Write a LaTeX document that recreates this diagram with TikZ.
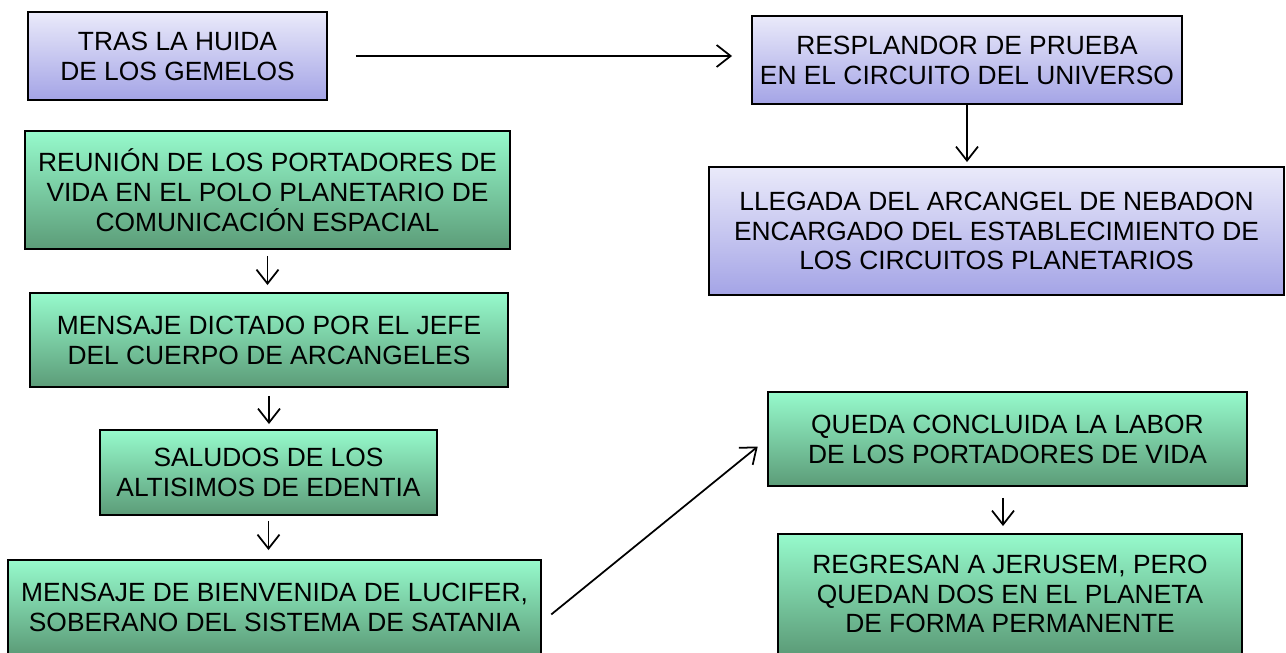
\documentclass[tikz,border=0pt]{standalone}
\usepackage{fontspec}
\setmainfont{Liberation Sans}
\usetikzlibrary{arrows.meta, positioning, calc}

\begin{document}
\begin{tikzpicture}[
    stage/.style={draw=black, line width=1.1pt, rectangle, align=center, font=\fontsize{15}{17}\selectfont, inner sep=2pt, minimum width=#1},
    lila/.style={top color=lilatop, bottom color=lilabot},
    verde/.style={top color=verdetop, bottom color=verdebot},
    flecha/.style={-{Straight Barb[length=0.28cm, width=0.44cm]}, line width=1pt},
]
\definecolor{lilatop}{RGB}{234,234,250}
\definecolor{lilabot}{RGB}{164,164,230}
\definecolor{verdetop}{RGB}{150,250,204}
\definecolor{verdebot}{RGB}{92,156,120}

\useasboundingbox (0, 0) rectangle (25.72, -13.06);

% --- Columna izquierda ---
\node[stage=5.98cm, lila, minimum height=1.76cm] (huida) at (3.55, -1.12) {TRAS LA HUIDA\\DE LOS GEMELOS};
\node[stage=9.7cm, verde, minimum height=2.36cm] (reunion) at (5.35, -3.8) {REUNIÓN DE LOS PORTADORES DE\\VIDA EN EL POLO PLANETARIO DE\\COMUNICACIÓN ESPACIAL};
\node[stage=9.56cm, verde, minimum height=1.88cm] (mensaje) at (5.38, -6.8) {MENSAJE DICTADO POR EL JEFE\\DEL CUERPO DE ARCANGELES};
\node[stage=6.74cm, verde, minimum height=1.7cm] (saludos) at (5.37, -9.45) {SALUDOS DE LOS\\ALTISIMOS DE EDENTIA};
\node[stage=10.66cm, verde, minimum height=1.88cm] (lucifer) at (5.49, -12.14) {MENSAJE DE BIENVENIDA DE LUCIFER,\\SOBERANO DEL SISTEMA DE SATANIA};

% --- Columna derecha ---
\node[stage=8.6cm, lila, minimum height=1.76cm] (prueba) at (19.34, -1.2) {RESPLANDOR DE PRUEBA\\EN EL CIRCUITO DEL UNIVERSO};
\node[stage=11.5cm, lila, minimum height=2.56cm] (arcangel) at (19.93, -4.62) {LLEGADA DEL ARCANGEL DE NEBADON\\ENCARGADO DEL ESTABLECIMIENTO DE\\LOS CIRCUITOS PLANETARIOS};
\node[stage=9.58cm, verde, minimum height=1.88cm] (labor) at (20.15, -8.78) {QUEDA CONCLUIDA LA LABOR\\DE LOS PORTADORES DE VIDA};
\node[stage=9.28cm, verde, minimum height=2.4cm] (regreso) at (20.2, -11.88) {REGRESAN A JERUSEM, PERO\\QUEDAN DOS EN EL PLANETA\\DE FORMA PERMANENTE};

% --- Flechas ---
\draw[flecha, shorten <=0.56cm, shorten >=0.38cm] (huida) -- (prueba.west |- huida);
\draw[flecha, shorten >=0.08cm] (prueba.south) -- (prueba.south |- arcangel.north);
\draw[flecha, shorten <=0.12cm, shorten >=0.14cm] (reunion.south) -- (reunion.south |- mensaje.north);
\draw[flecha, shorten <=0.16cm, shorten >=0.1cm] (mensaje.south) -- (mensaje.south |- saludos.north);
\draw[flecha, shorten <=0.1cm, shorten >=0.18cm] (saludos.south) -- (saludos.south |- lucifer.north);
\draw[flecha, shorten <=0.22cm, shorten >=0.14cm] (labor.south -| 20.06, 0) -- (regreso.north -| 20.06, 0);
\draw[flecha, shorten <=0.24cm, shorten >=0.24cm] ([yshift=-0.3cm]lucifer.east) -- (labor.west);

\end{tikzpicture}
\end{document}
